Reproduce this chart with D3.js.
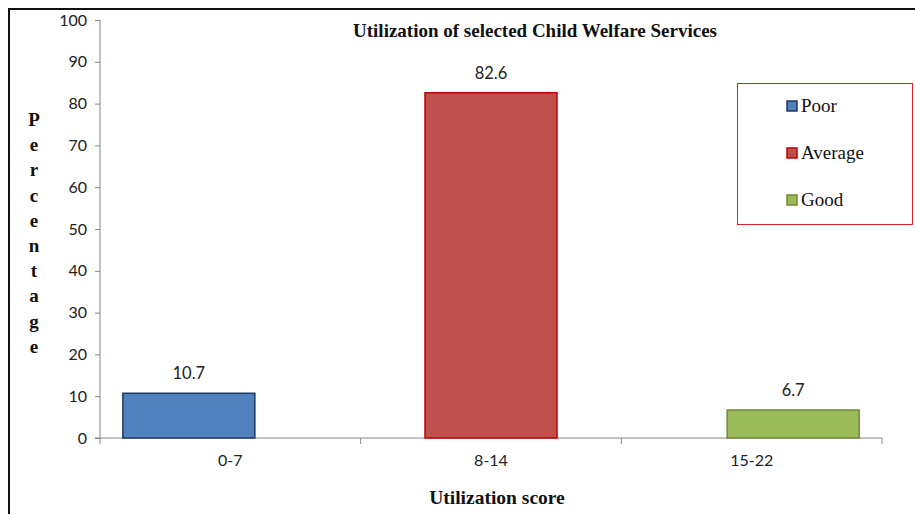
<!DOCTYPE html>
<html lang="en">

<head>
	<meta charset="utf-8">
	<title>Utilization of selected Child Welfare Services</title>
	<script type="text/javascript" src="https://cdn.jsdelivr.net/npm/d3@7"></script>
	<style type="text/css">
		body { margin: 0; background: #fff; }
		.tick text { font-family: Lato, "Open Sans", sans-serif; font-size: 16px; fill: #222; }
		.serif { font-family: "Liberation Serif", "Times New Roman", serif; font-weight: bold; fill: #111; }
	</style>
</head>

<body>
	<script type="text/javascript">

		var categories = ["0-7", "8-14", "15-22"];
		var series = ["Poor", "Average", "Good"];
		var values = [10.7, 82.6, 6.7];
		var yTicks = [0, 10, 20, 30, 40, 50, 60, 70, 80, 90, 100];

		var fills = ["#4f81bd", "#c0504d", "#9bbb59"];
		var strokes = ["#1f3864", "#c00000", "#71893f"];

		var w = 915;
		var h = 515;

		var svg = d3.select("body")
			.append("svg")
			.attr("width", w)
			.attr("height", h);

		// outer frame (left and top edges only visible)
		svg.append("path")
			.attr("d", "M9,514V9H915")
			.attr("fill", "none")
			.attr("stroke", "#111")
			.attr("stroke-width", 2);

		var x = d3.scaleBand()
			.domain(categories)
			.range([100, 882]);

		// each category holds one series, offset like a clustered chart
		var offset = d3.scalePoint()
			.domain(series)
			.range([-41.5, 41.5]);

		var barW = 132;

		var y = d3.scaleLinear()
			.domain([0, 100])
			.range([438, 20]);

		// y axis
		var yAxis = svg.append("g")
			.attr("transform", "translate(100,0)")
			.call(d3.axisLeft(y).tickValues(yTicks).tickSize(5).tickPadding(8));
		yAxis.select(".domain").attr("stroke", "#868686").attr("d", "M0,20V438");
		yAxis.selectAll(".tick line").attr("stroke", "#868686");

		// x axis with boundary ticks
		var xAxis = svg.append("g")
			.attr("transform", "translate(0,438)")
			.call(d3.axisBottom(x).tickSize(0).tickPadding(17));
		xAxis.select(".domain").attr("stroke", "#868686").attr("d", "M95,0H882");
		xAxis.selectAll(".bound")
			.data(categories.map(function(c){ return x(c); }).concat([x.range()[1]]))
			.enter()
			.append("line")
			.attr("class", "bound")
			.attr("x1", function(d){ return d; })
			.attr("x2", function(d){ return d; })
			.attr("y1", 0)
			.attr("y2", 6)
			.attr("stroke", "#868686");

		// bars
		svg.selectAll("rect.bar")
			.data(values)
			.enter()
			.append("rect")
			.attr("class", "bar")
			.attr("x", function(d, i){
				return x(categories[i]) + x.bandwidth() / 2 + offset(series[i]) - barW / 2;
			})
			.attr("y", function(d){ return y(d); })
			.attr("width", barW)
			.attr("height", function(d){ return y(0) - y(d); })
			.attr("fill", function(d, i){ return fills[i]; })
			.attr("stroke", function(d, i){ return strokes[i]; })
			.attr("stroke-width", 1.5);

		// value labels
		svg.selectAll("text.val")
			.data(values)
			.enter()
			.append("text")
			.attr("class", "val")
			.attr("x", function(d, i){
				return x(categories[i]) + x.bandwidth() / 2 + offset(series[i]);
			})
			.attr("y", function(d){ return y(d) - 14; })
			.attr("text-anchor", "middle")
			.attr("font-family", "Lato, 'Open Sans', sans-serif")
			.attr("font-size", "16.5px")
			.attr("fill", "#222")
			.text(function(d){ return d; });

		// title
		svg.append("text")
			.attr("class", "serif")
			.attr("x", 535)
			.attr("y", 37)
			.attr("text-anchor", "middle")
			.attr("font-size", "19px")
			.text("Utilization of selected Child Welfare Services");

		// x title
		svg.append("text")
			.attr("class", "serif")
			.attr("x", 497)
			.attr("y", 504)
			.attr("text-anchor", "middle")
			.attr("font-size", "19.5px")
			.text("Utilization score");

		// y title, letters stacked
		svg.append("g")
			.selectAll("text")
			.data("Percentage".split(""))
			.enter()
			.append("text")
			.attr("class", "serif")
			.attr("x", 34)
			.attr("y", function(d, i){ return 126 + i * 25.2; })
			.attr("text-anchor", "middle")
			.attr("font-size", "19px")
			.text(function(d){ return d; });

		// legend
		var legend = svg.append("g");
		legend.append("rect")
			.attr("x", 737.5)
			.attr("y", 83.5)
			.attr("width", 175)
			.attr("height", 141)
			.attr("fill", "#fff")
			.attr("stroke", "#d9262c")
			.attr("stroke-width", 1);

		var items = legend.selectAll("g.item")
			.data(series)
			.enter()
			.append("g")
			.attr("class", "item")
			.attr("transform", function(d, i){ return "translate(787," + (106 + i * 47) + ")"; });

		items.append("rect")
			.attr("x", 0)
			.attr("y", -5)
			.attr("width", 10)
			.attr("height", 10)
			.attr("fill", function(d, i){ return fills[i]; })
			.attr("stroke", function(d, i){ return strokes[i]; })
			.attr("stroke-width", 1.5);

		items.append("text")
			.attr("x", 14)
			.attr("y", 6)
			.attr("font-family", "'Liberation Serif', 'Times New Roman', serif")
			.attr("font-size", "19px")
			.attr("fill", "#111")
			.text(function(d){ return d; });

	</script>
</body>

</html>
